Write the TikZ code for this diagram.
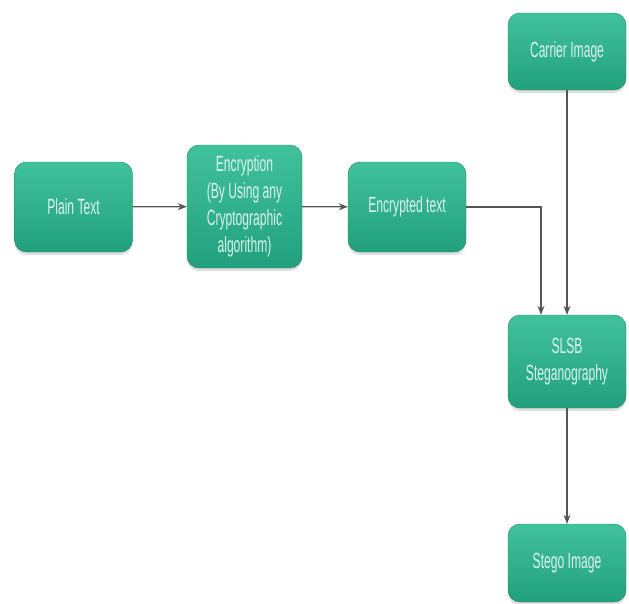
\documentclass[tikz,border=0pt]{standalone}
\usepackage{fontspec}
\setmainfont{Liberation Sans}[FakeStretch=0.55]
\usetikzlibrary{arrows.meta,shadows}

\begin{document}
\begin{tikzpicture}[x=1pt,y=-1pt,
  stepbox/.style={draw=boxline, top color=boxtop, bottom color=boxbot,
    rounded corners=12pt, text=boxtext, align=center, inner sep=2pt,
    minimum width=118pt, minimum height=90pt,
    font=\fontsize{22pt}{27pt}\selectfont,
    drop shadow={shadow xshift=0pt, shadow yshift=-3pt, opacity=0.25}},
  flow/.style={->, >={Stealth[length=9pt,width=7pt]}, draw=arrowgray, line width=1.2pt}]
\definecolor{boxtop}{HTML}{40C29C}
\definecolor{boxbot}{HTML}{22A07D}
\definecolor{boxline}{HTML}{1C8467}
\definecolor{boxtext}{HTML}{DDF3EC}
\definecolor{arrowgray}{HTML}{555555}
\useasboundingbox (0,0) rectangle (629,603);

\node[stepbox] (plain) at (73.5,207) {Plain Text};
\node[stepbox, minimum width=115pt, minimum height=123pt] (encrypt) at (244.5,206.5)
  {Encryption\\(By Using any\\Cryptographic\\algorithm)};
\node[stepbox] (cipher) at (407,207) {Encrypted text};
\node[stepbox, minimum height=77pt] (carrier) at (567,51.5) {Carrier Image};
\node[stepbox, minimum height=93pt] (slsb) at (567,361.5) {SLSB\\Steganography};
\node[stepbox, minimum height=78pt] (stego) at (567,563) {Stego Image};

\draw[flow] (plain) -- (encrypt);
\draw[flow] (encrypt) -- (cipher);
\draw[flow] (cipher.east) -| ([xshift=-26pt]slsb.north);
\draw[flow] (carrier) -- (slsb);
\draw[flow] (slsb) -- (stego);

\end{tikzpicture}
\end{document}
